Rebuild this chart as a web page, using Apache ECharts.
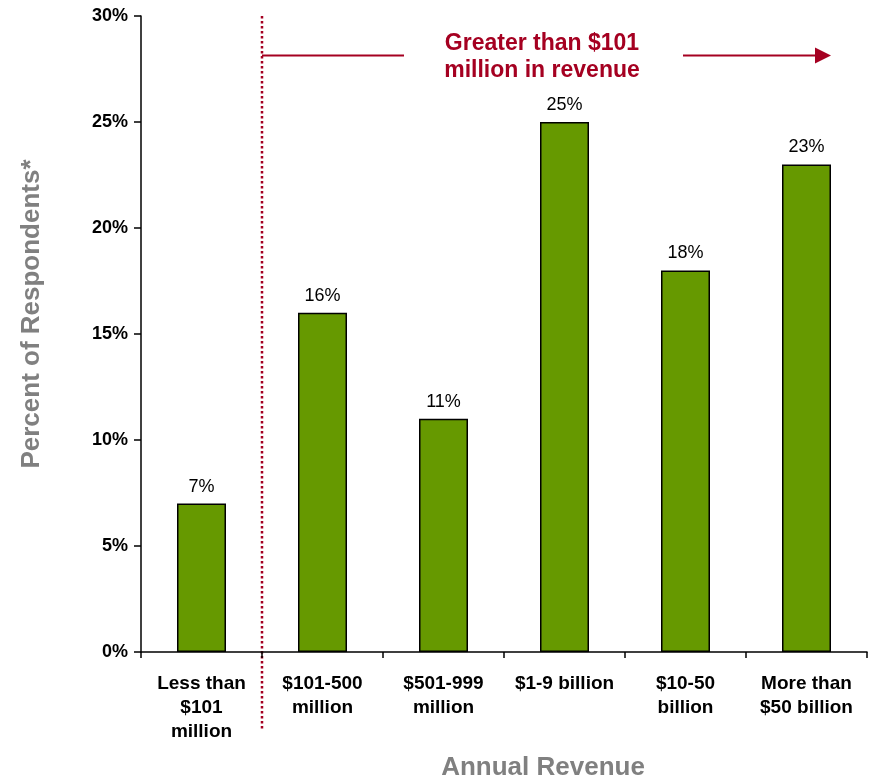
<!DOCTYPE html>
<html><head><meta charset="utf-8">
<script src="https://cdn.jsdelivr.net/npm/echarts@6/dist/echarts.min.js"></script>
<style>html,body{margin:0;padding:0;background:#fff}#c{width:875px;height:780px}</style>
</head><body><div id="c"></div>
<script>
// Share of respondents by annual revenue band
const categories = ['Less than\n$101\nmillion', '$101-500\nmillion', '$501-999\nmillion', '$1-9 billion', '$10-50\nbillion', 'More than\n$50 billion'];
const respondentPct = [7, 16, 11, 25, 18, 23];
const yMin = 0, yMax = 30, yStep = 5;
const yAxisTitle = 'Percent of Respondents*';
const xAxisTitle = 'Annual Revenue';
const bracketText = 'Greater than $101\nmillion in revenue';

const FONT = 'Arial, "Liberation Sans", Helvetica, sans-serif';
const RED = '#A50021';
const GREY = '#808080';

const chart = echarts.init(document.getElementById('c'), null, {renderer: 'canvas'});
chart.setOption({
  animation: false,
  backgroundColor: '#ffffff',
  grid: {left: 141, right: 8, top: 16, bottom: 128, containLabel: false},
  xAxis: {
    type: 'category',
    data: categories,
    axisLine: {lineStyle: {color: '#000', width: 1.5}},
    axisTick: {show: true, length: 6, alignWithLabel: false, lineStyle: {color: '#000', width: 1.5}},
    axisLabel: {
      interval: 0, margin: 20, color: '#000', fontFamily: FONT, fontWeight: 'bold',
      fontSize: 19, lineHeight: 24, align: 'center', verticalAlign: 'top'
    }
  },
  yAxis: {
    type: 'value', min: yMin, max: yMax, interval: yStep,
    axisLine: {show: true, lineStyle: {color: '#000', width: 1.5}},
    axisTick: {show: true, length: 7, inside: false, lineStyle: {color: '#000', width: 1.5}},
    splitLine: {show: false},
    axisLabel: {
      formatter: '{value}%', margin: 13, color: '#000', fontFamily: FONT,
      fontWeight: 'bold', fontSize: 18
    }
  },
  series: [{
    type: 'bar',
    data: respondentPct,
    barWidth: 49,
    itemStyle: {color: '#669900', borderColor: '#000', borderWidth: 1.5},
    label: {
      show: true, position: 'top', distance: 8, formatter: '{c}%',
      color: '#000', fontFamily: FONT, fontSize: 18
    }
  }]
});

// Boundary between the first and second revenue bands, and the plot extents
const x0 = chart.convertToPixel({xAxisIndex: 0}, 0);
const x1 = chart.convertToPixel({xAxisIndex: 0}, 1);
const splitX = Math.round((x0 + x1) / 2);
const topY = chart.convertToPixel({yAxisIndex: 0}, yMax);
const baseY = chart.convertToPixel({yAxisIndex: 0}, yMin);
const bracketY = 55.5;
const tipX = 831;

chart.setOption({
  graphic: [
    {
      type: 'line', silent: true,
      shape: {x1: splitX, y1: topY, x2: splitX, y2: baseY + 78},
      style: {stroke: RED, lineWidth: 2.5, lineDash: [2.5, 2.5]}
    },
    {
      type: 'line', silent: true,
      shape: {x1: splitX, y1: bracketY, x2: 404, y2: bracketY},
      style: {stroke: RED, lineWidth: 2}
    },
    {
      type: 'line', silent: true,
      shape: {x1: 683, y1: bracketY, x2: tipX - 12, y2: bracketY},
      style: {stroke: RED, lineWidth: 2}
    },
    {
      type: 'polygon', silent: true,
      shape: {points: [[tipX - 16, bracketY - 8], [tipX, bracketY], [tipX - 16, bracketY + 8]]},
      style: {fill: RED}
    },
    {
      type: 'text', silent: true, x: 542, y: 57,
      style: {
        text: bracketText, fill: RED, font: 'bold 23px ' + FONT,
        align: 'center', verticalAlign: 'middle', lineHeight: 27
      }
    },
    {
      type: 'text', silent: true, x: 32, y: 314, rotation: Math.PI / 2,
      style: {
        text: yAxisTitle, fill: GREY, font: 'bold 26px ' + FONT,
        align: 'center', verticalAlign: 'middle'
      }
    },
    {
      type: 'text', silent: true, x: 543, y: 768,
      style: {
        text: xAxisTitle, fill: GREY, font: 'bold 26px ' + FONT,
        align: 'center', verticalAlign: 'middle'
      }
    }
  ]
});
</script>
</body></html>
